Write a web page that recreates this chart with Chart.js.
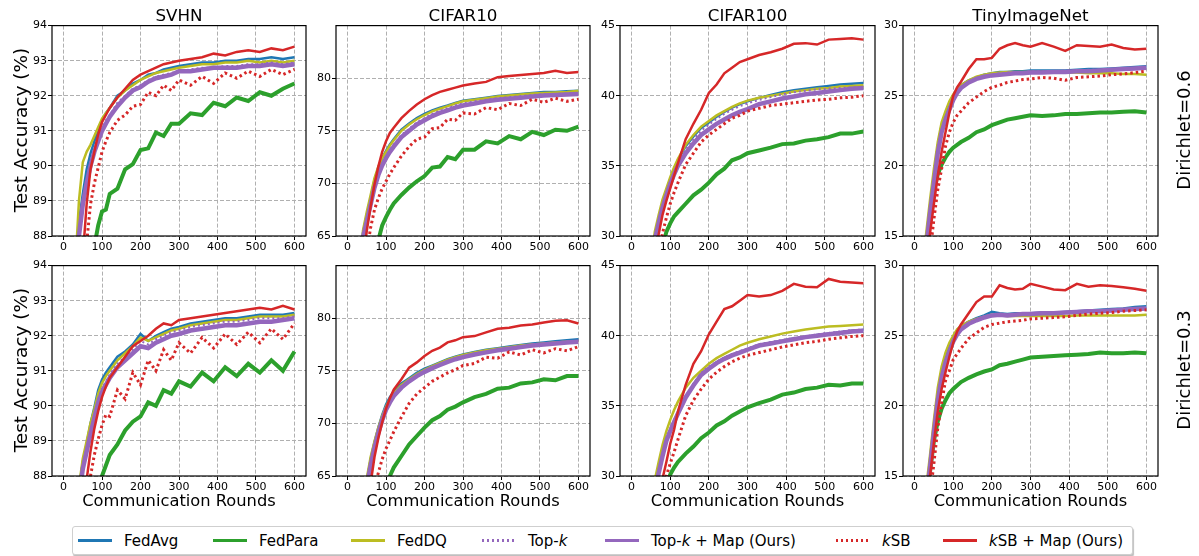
<!DOCTYPE html>
<html>
<head>
<meta charset="utf-8">
<script src="https://cdn.jsdelivr.net/npm/chart.js@4.4.0/dist/chart.umd.min.js"></script>
<style>
  body { margin: 0; background: #fff; width: 1199px; height: 556px; position: relative; overflow: hidden;
         font-family: "DejaVu Sans", sans-serif; color: #000; }
  canvas { position: absolute; }
  .lbl { position: absolute; white-space: nowrap; transform: translate(-50%, -50%); line-height: 1; }
  .rot { transform: translate(-50%, -50%) rotate(-90deg); }
  #legend { position: absolute; left: 72px; top: 526px; width: 1059px; height: 27px; border: 1px solid #cfcfcf;
            border-radius: 3px; background: #fff; box-shadow: 1px 2px 1px rgba(0,0,0,0.25); }
  .item { position: absolute; top: 0; height: 27px; }
  .swatch { position: absolute; top: 12px; width: 34px; height: 3px; }
  .text { position: absolute; top: 5px; font-size: 15px; white-space: nowrap; }
</style>
</head>
<body>
<div id="legend"></div>
<script>
const ROUNDS = [0, 25, 40, 50, 60, 70, 80, 90, 100, 110, 120, 140, 160, 180, 200, 220, 240, 260, 280, 300,
                330, 360, 390, 420, 450, 480, 510, 540, 570, 600];
const X_TICKS = [0, 100, 200, 300, 400, 500, 600];

const TITLES = ['SVHN', 'CIFAR10', 'CIFAR100', 'TinyImageNet'];
const ROW_LABELS = ['Dirichlet=0.6', 'Dirichlet=0.3'];
const Y_MIN = [88, 65, 30, 15];
const Y_MAX = [94, 85, 45, 30];
const Y_TICKS = [[88, 89, 90, 91, 92, 93, 94], [65, 70, 75, 80], [30, 35, 40, 45], [15, 20, 25, 30]];
const SERIES_NAMES = ['FedAvg', 'FedPara', 'FedDQ', 'Top-k', 'Top-k + Map (Ours)', 'kSB', 'kSB + Map (Ours)'];

// ---- SVHN, Dirichlet=0.6
const svhn06FedAvg = [80, 85.5, 88.4, 89.2, 89.9, 90.35, 90.7, 91.0, 91.3, 91.5,
  91.65, 92.0, 92.15, 92.35, 92.45, 92.6, 92.65, 92.75, 92.8, 92.85,
  92.9, 92.95, 92.95, 93.0, 93.0, 93.05, 93.05, 93.1, 93.05, 93.1];
const svhn06FedPara = [75, 80, 83, 84.5, 85.8, 86.8, 87.7, 88.3, 88.7, 88.75,
  89.2, 89.35, 89.9, 90.05, 90.45, 90.5, 90.95, 90.85, 91.2, 91.2,
  91.5, 91.45, 91.8, 91.7, 91.95, 91.85, 92.1, 92.0, 92.2, 92.35];
const svhn06FedDQ = [80, 86, 89.0, 90.1, 90.4, 90.6, 90.85, 91.1, 91.35, 91.5,
  91.65, 91.95, 92.15, 92.3, 92.45, 92.55, 92.65, 92.7, 92.75, 92.8,
  92.85, 92.9, 92.9, 92.95, 92.95, 93.0, 92.95, 93.0, 92.95, 93.0];
const svhn06TopK = [79, 85, 88.0, 89.0, 89.6, 90.1, 90.5, 90.8, 91.05, 91.3,
  91.45, 91.8, 92.0, 92.2, 92.3, 92.45, 92.55, 92.6, 92.65, 92.7,
  92.75, 92.8, 92.8, 92.85, 92.85, 92.9, 92.9, 92.95, 92.9, 92.95];
const svhn06TopKMap = [79, 85, 88.0, 88.9, 89.5, 90.0, 90.4, 90.7, 91.0, 91.2,
  91.4, 91.7, 91.95, 92.15, 92.25, 92.4, 92.5, 92.55, 92.6, 92.7,
  92.7, 92.75, 92.8, 92.8, 92.8, 92.85, 92.85, 92.9, 92.85, 92.9];
const svhn06KSB = [75, 81, 84.5, 86.2, 87.8, 88.9, 89.5, 89.95, 90.4, 90.7,
  90.95, 91.3, 91.45, 91.7, 91.75, 92.1, 92.0, 92.3, 92.15, 92.45,
  92.3, 92.55, 92.35, 92.65, 92.5, 92.7, 92.55, 92.75, 92.6, 92.75];
const svhn06KSBMap = [76, 82, 85.5, 87.4, 88.9, 89.9, 90.4, 90.9, 91.25, 91.45,
  91.65, 91.95, 92.2, 92.45, 92.6, 92.7, 92.8, 92.9, 92.95, 93.0,
  93.05, 93.1, 93.2, 93.15, 93.25, 93.3, 93.25, 93.35, 93.3, 93.4];

// ---- CIFAR10, Dirichlet=0.6
const cifar10_06FedAvg = [30, 55, 65.3, 67.0, 68.6, 70.3, 71.5, 72.4, 73.1, 73.7,
  74.2, 75.1, 75.7, 76.2, 76.6, 76.95, 77.2, 77.4, 77.65, 77.85,
  78.0, 78.15, 78.3, 78.4, 78.5, 78.6, 78.7, 78.7, 78.75, 78.8];
const cifar10_06FedPara = [20, 40, 52, 56.5, 60, 62.5, 64.6, 66.0, 66.8, 67.5,
  68.1, 68.9, 69.6, 70.2, 70.7, 71.5, 71.6, 72.5, 72.3, 73.2,
  73.2, 74.0, 73.8, 74.5, 74.2, 74.9, 74.6, 75.1, 75.0, 75.4];
const cifar10_06FedDQ = [30, 55, 65.5, 67.3, 68.9, 70.5, 71.6, 72.4, 73.0, 73.6,
  74.1, 75.0, 75.6, 76.1, 76.5, 76.85, 77.1, 77.35, 77.6, 77.8,
  77.95, 78.1, 78.25, 78.35, 78.45, 78.55, 78.6, 78.65, 78.7, 78.8];
const cifar10_06TopK = [30, 54.5, 65.0, 66.6, 68.2, 69.8, 71.0, 71.9, 72.6, 73.2,
  73.7, 74.6, 75.2, 75.8, 76.2, 76.6, 76.9, 77.15, 77.4, 77.6,
  77.8, 77.95, 78.1, 78.2, 78.3, 78.4, 78.5, 78.5, 78.55, 78.6];
const cifar10_06TopKMap = [30, 54, 64.8, 66.4, 68.0, 69.6, 70.8, 71.7, 72.4, 73.0,
  73.5, 74.4, 75.0, 75.6, 76.0, 76.4, 76.7, 76.95, 77.2, 77.4,
  77.6, 77.8, 77.95, 78.05, 78.15, 78.25, 78.35, 78.4, 78.45, 78.5];
const cifar10_06KSB = [25, 50, 60, 63.5, 65.8, 67.5, 68.6, 69.5, 70.2, 70.9,
  71.5, 72.6, 73.5, 74.2, 74.4, 75.2, 75.3, 76.1, 76.0, 76.7,
  76.6, 77.2, 77.0, 77.6, 77.4, 78.0, 77.7, 78.1, 77.8, 78.0];
const cifar10_06KSBMap = [28, 52, 62.5, 65.5, 67.8, 69.9, 71.6, 73.0, 74.0, 74.8,
  75.3, 76.2, 76.9, 77.5, 78.0, 78.4, 78.7, 78.9, 79.1, 79.3,
  79.5, 79.65, 80.1, 80.2, 80.3, 80.4, 80.5, 80.7, 80.5, 80.6];

// ---- CIFAR100, Dirichlet=0.6
const cifar100_06FedAvg = [5, 18, 24, 27.3, 30.0, 31.2, 32.3, 33.2, 34.0, 34.8,
  35.4, 36.4, 37.1, 37.7, 38.1, 38.5, 38.85, 39.15, 39.4, 39.6,
  39.85, 40.05, 40.25, 40.4, 40.5, 40.6, 40.7, 40.8, 40.85, 40.9];
const cifar100_06FedPara = [5, 15, 21, 24, 26.2, 27.8, 29.2, 30.3, 30.9, 31.4,
  31.7, 32.3, 32.9, 33.3, 33.8, 34.4, 34.8, 35.4, 35.6, 35.9,
  36.1, 36.3, 36.55, 36.6, 36.8, 36.9, 37.05, 37.3, 37.3, 37.45];
const cifar100_06FedDQ = [5, 19, 25, 28, 30.3, 31.5, 32.6, 33.4, 34.2, 34.9,
  35.5, 36.5, 37.2, 37.8, 38.2, 38.6, 38.9, 39.2, 39.45, 39.65,
  39.85, 40.0, 40.15, 40.3, 40.4, 40.5, 40.55, 40.65, 40.7, 40.75];
const cifar100_06TopK = [5, 18, 24, 27.2, 29.9, 31.1, 32.2, 33.1, 33.9, 34.6,
  35.2, 36.2, 36.9, 37.5, 37.95, 38.35, 38.7, 39.0, 39.25, 39.45,
  39.7, 39.9, 40.1, 40.25, 40.35, 40.45, 40.5, 40.55, 40.6, 40.6];
const cifar100_06TopKMap = [5, 18, 24, 27, 29.7, 30.9, 32.0, 32.9, 33.7, 34.4,
  35.0, 35.9, 36.6, 37.2, 37.6, 38.0, 38.3, 38.6, 38.85, 39.05,
  39.4, 39.6, 39.8, 39.95, 40.1, 40.2, 40.3, 40.4, 40.5, 40.55];
const cifar100_06KSB = [3, 15, 21, 24.5, 27, 28.8, 30.2, 31.3, 32.3, 33.1,
  33.8, 35.1, 35.9, 36.7, 37.2, 37.6, 38.0, 38.4, 38.6, 38.9,
  39.1, 39.3, 39.4, 39.5, 39.6, 39.7, 39.75, 39.85, 39.9, 40.0];
const cifar100_06KSBMap = [4, 16, 22, 25.5, 28.2, 30.1, 31.5, 32.5, 33.4, 34.3,
  35.2, 36.9, 38.0, 39.0, 40.2, 40.8, 41.6, 42.0, 42.4, 42.6,
  42.9, 43.1, 43.35, 43.7, 43.75, 43.65, 44.0, 44.05, 44.1, 44.0];

// ---- TinyImageNet, Dirichlet=0.6
const tiny06FedAvg = [5, 13.5, 17.0, 19.2, 21.4, 22.9, 23.7, 24.4, 25.0, 25.4,
  25.75, 26.1, 26.3, 26.5, 26.6, 26.7, 26.7, 26.75, 26.75, 26.8,
  26.8, 26.8, 26.8, 26.85, 26.9, 26.9, 26.95, 27.0, 27.05, 27.1];
const tiny06FedPara = [5, 12, 16.2, 18.2, 19.4, 20.1, 20.6, 21.0, 21.3, 21.5,
  21.7, 22.0, 22.4, 22.6, 22.9, 23.1, 23.3, 23.4, 23.5, 23.6,
  23.55, 23.6, 23.7, 23.7, 23.75, 23.8, 23.8, 23.85, 23.9, 23.8];
const tiny06FedDQ = [5, 14, 17.6, 19.8, 21.7, 23.1, 23.9, 24.6, 25.1, 25.45,
  25.75, 26.1, 26.35, 26.5, 26.6, 26.65, 26.7, 26.7, 26.7, 26.7,
  26.7, 26.65, 26.65, 26.65, 26.6, 26.6, 26.6, 26.55, 26.55, 26.5];
const tiny06TopK = [5, 13.2, 16.8, 19.0, 21.2, 22.6, 23.5, 24.2, 24.85, 25.3,
  25.65, 26.0, 26.25, 26.4, 26.5, 26.6, 26.65, 26.7, 26.7, 26.75,
  26.75, 26.75, 26.8, 26.8, 26.85, 26.85, 26.9, 26.9, 26.95, 26.95];
const tiny06TopKMap = [5, 13, 16.6, 18.8, 20.9, 22.4, 23.3, 24.0, 24.7, 25.2,
  25.55, 25.95, 26.2, 26.35, 26.45, 26.5, 26.55, 26.6, 26.6, 26.65,
  26.65, 26.7, 26.7, 26.75, 26.75, 26.8, 26.85, 26.9, 26.95, 27.0];
const tiny06KSB = [3, 10, 13.8, 16.2, 18.3, 19.8, 21.4, 22.4, 23.1, 23.6,
  23.9, 24.5, 24.9, 25.3, 25.6, 25.75, 25.95, 26.05, 26.15, 26.2,
  26.3, 26.25, 26.1, 26.3, 26.35, 26.4, 26.5, 26.55, 26.65, 26.75];
const tiny06KSBMap = [3, 11, 15.2, 17.3, 19.3, 21.0, 22.4, 23.8, 25.0, 25.6,
  26.0, 26.9, 27.6, 27.6, 27.7, 28.35, 28.6, 28.75, 28.6, 28.5,
  28.75, 28.5, 28.2, 28.6, 28.55, 28.5, 28.65, 28.4, 28.3, 28.35];

// ---- SVHN, Dirichlet=0.3
const svhn03FedAvg = [80, 85, 87.6, 88.4, 88.9, 89.5, 89.95, 90.45, 90.75, 90.95,
  91.1, 91.4, 91.55, 91.75, 92.05, 91.85, 92.0, 92.1, 92.2, 92.25,
  92.35, 92.4, 92.45, 92.5, 92.5, 92.55, 92.6, 92.6, 92.6, 92.65];
const svhn03FedPara = [70, 78, 82, 84, 85.5, 86.5, 87.2, 87.7, 88.0, 88.3,
  88.6, 88.9, 89.3, 89.55, 89.7, 90.1, 90.0, 90.45, 90.35, 90.7,
  90.55, 90.95, 90.7, 91.1, 90.85, 91.2, 90.95, 91.3, 91.0, 91.55];
const svhn03FedDQ = [80, 85, 87.7, 88.5, 89.0, 89.5, 89.9, 90.35, 90.65, 90.85,
  91.0, 91.3, 91.5, 91.7, 91.95, 91.85, 91.95, 92.05, 92.15, 92.2,
  92.3, 92.35, 92.4, 92.45, 92.45, 92.5, 92.55, 92.55, 92.55, 92.6];
const svhn03TopK = [79, 84.5, 87.5, 88.3, 88.8, 89.3, 89.75, 90.2, 90.5, 90.7,
  90.9, 91.2, 91.4, 91.6, 91.85, 91.75, 91.9, 92.0, 92.1, 92.15,
  92.25, 92.3, 92.35, 92.4, 92.4, 92.45, 92.5, 92.5, 92.5, 92.55];
const svhn03TopKMap = [79, 84.5, 87.4, 88.2, 88.7, 89.2, 89.65, 90.1, 90.4, 90.6,
  90.8, 91.1, 91.3, 91.5, 91.7, 91.65, 91.8, 91.9, 92.0, 92.05,
  92.15, 92.2, 92.25, 92.3, 92.3, 92.35, 92.4, 92.4, 92.45, 92.5];
const svhn03KSB = [75, 81, 84.5, 86.0, 87.2, 88.0, 88.6, 89.05, 89.45, 89.75,
  89.7, 90.45, 90.2, 90.95, 90.6, 91.3, 91.0, 91.6, 91.3, 91.8,
  91.5, 91.95, 91.65, 92.05, 91.75, 92.1, 91.8, 92.2, 91.9, 92.35];
const svhn03KSBMap = [76, 82, 85.5, 86.8, 87.9, 88.7, 89.35, 89.85, 90.25, 90.55,
  90.8, 91.1, 91.4, 91.7, 91.85, 92.0, 92.2, 92.35, 92.3, 92.45,
  92.5, 92.55, 92.6, 92.65, 92.7, 92.75, 92.8, 92.75, 92.85, 92.75];

// ---- CIFAR10, Dirichlet=0.3
const cifar10_03FedAvg = [30, 52, 60.5, 64.5, 66.6, 68.2, 69.6, 70.8, 71.8, 72.5,
  73.0, 73.8, 74.3, 74.8, 75.2, 75.5, 75.8, 76.1, 76.35, 76.55,
  76.8, 77.0, 77.15, 77.3, 77.45, 77.6, 77.7, 77.8, 77.9, 78.0];
const cifar10_03FedPara = [20, 40, 50, 54.5, 57.5, 60, 62.2, 63.5, 64.2, 65.0,
  65.8, 66.9, 68.0, 68.8, 69.6, 70.3, 70.7, 71.3, 71.6, 72.0,
  72.5, 72.8, 73.3, 73.4, 73.8, 73.9, 74.2, 74.1, 74.5, 74.5];
const cifar10_03FedDQ = [30, 52, 61, 64.8, 66.8, 68.3, 69.6, 70.7, 71.6, 72.3,
  72.85, 73.65, 74.2, 74.7, 75.1, 75.45, 75.75, 76.05, 76.3, 76.5,
  76.75, 76.95, 77.1, 77.25, 77.4, 77.5, 77.6, 77.7, 77.75, 77.8];
const cifar10_03TopK = [30, 51.5, 60, 64.2, 66.3, 67.9, 69.3, 70.5, 71.5, 72.2,
  72.75, 73.55, 74.1, 74.6, 75.0, 75.35, 75.65, 75.95, 76.2, 76.4,
  76.65, 76.85, 77.05, 77.2, 77.35, 77.5, 77.6, 77.7, 77.8, 77.85];
const cifar10_03TopKMap = [30, 51, 59.5, 64.0, 66.0, 67.7, 69.1, 70.3, 71.3, 72.0,
  72.6, 73.4, 74.0, 74.5, 74.9, 75.25, 75.55, 75.85, 76.1, 76.3,
  76.55, 76.75, 76.95, 77.1, 77.25, 77.4, 77.5, 77.6, 77.7, 77.75];
const cifar10_03KSB = [25, 48, 56, 59.5, 62.3, 64.1, 65.3, 66.6, 67.6, 68.4,
  69.2, 70.6, 71.9, 72.8, 73.4, 74.0, 74.4, 74.8, 75.1, 75.5,
  75.7, 76.3, 76.2, 76.8, 76.5, 77.0, 76.7, 77.1, 76.9, 77.3];
const cifar10_03KSBMap = [28, 50, 58, 62, 64.3, 66.8, 68.6, 70.1, 71.4, 72.4,
  73.2, 74.2, 75.3, 75.8, 76.4, 76.9, 77.2, 77.7, 77.9, 78.2,
  78.3, 78.65, 79.0, 79.1, 79.3, 79.4, 79.6, 79.75, 79.8, 79.5];

// ---- CIFAR100, Dirichlet=0.3
const cifar100_03FedAvg = [5, 17, 23, 26.5, 28.8, 30.3, 31.5, 32.6, 33.3, 33.9,
  34.5, 35.6, 36.5, 37.3, 37.7, 38.1, 38.4, 38.65, 38.85, 39.05,
  39.35, 39.5, 39.65, 39.8, 39.9, 40.05, 40.15, 40.25, 40.35, 40.4];
const cifar100_03FedPara = [5, 14, 20, 23, 25.2, 26.8, 28.2, 29.4, 30.1, 30.6,
  31.0, 31.6, 32.1, 32.7, 33.1, 33.6, 33.9, 34.3, 34.6, 34.9,
  35.2, 35.45, 35.8, 35.95, 36.2, 36.3, 36.5, 36.45, 36.6, 36.6];
const cifar100_03FedDQ = [5, 18, 24, 27.5, 29.7, 31.0, 32.2, 33.2, 34.0, 34.7,
  35.3, 36.3, 37.0, 37.5, 38.0, 38.4, 38.7, 39.0, 39.3, 39.5,
  39.75, 39.95, 40.15, 40.3, 40.45, 40.55, 40.65, 40.7, 40.75, 40.8];
const cifar100_03TopK = [5, 17, 23, 26.6, 28.9, 30.4, 31.6, 32.7, 33.4, 34.0,
  34.6, 35.7, 36.6, 37.35, 37.8, 38.15, 38.45, 38.7, 38.9, 39.1,
  39.4, 39.55, 39.7, 39.85, 39.95, 40.1, 40.2, 40.3, 40.4, 40.45];
const cifar100_03TopKMap = [5, 17, 23, 26.4, 28.7, 30.2, 31.4, 32.5, 33.2, 33.85,
  34.45, 35.6, 36.45, 37.2, 37.65, 38.05, 38.35, 38.6, 38.8, 39.0,
  39.3, 39.45, 39.6, 39.75, 39.9, 40.0, 40.1, 40.2, 40.3, 40.35];
const cifar100_03KSB = [3, 14, 20, 23.5, 26, 27.8, 29.0, 30.0, 30.9, 31.7,
  32.6, 34.3, 35.4, 36.2, 36.9, 37.4, 37.8, 38.15, 38.4, 38.6,
  38.8, 39.0, 39.2, 39.35, 39.5, 39.6, 39.75, 39.85, 39.95, 40.0];
const cifar100_03KSBMap = [4, 15, 21, 24.5, 26.8, 28.4, 29.8, 31.0, 32.3, 33.3,
  34.6, 36.5, 38.0, 38.9, 40.1, 41.0, 41.9, 42.1, 42.5, 42.9,
  42.8, 42.9, 43.2, 43.7, 43.5, 43.45, 44.05, 43.85, 43.8, 43.75];

// ---- TinyImageNet, Dirichlet=0.3
const tiny03FedAvg = [4, 12.5, 16.0, 18.5, 20.8, 22.4, 23.4, 24.2, 24.9, 25.4,
  25.7, 26.0, 26.25, 26.45, 26.7, 26.6, 26.55, 26.6, 26.6, 26.6,
  26.65, 26.65, 26.7, 26.75, 26.8, 26.85, 26.9, 26.95, 27.05, 27.1];
const tiny03FedPara = [4, 11, 15.3, 17.5, 18.9, 19.8, 20.4, 20.9, 21.2, 21.45,
  21.7, 22.0, 22.25, 22.45, 22.6, 22.9, 23.0, 23.15, 23.3, 23.45,
  23.5, 23.55, 23.6, 23.65, 23.7, 23.8, 23.75, 23.75, 23.8, 23.75];
const tiny03FedDQ = [4, 13, 16.5, 19.0, 21.3, 22.8, 23.8, 24.5, 25.0, 25.45,
  25.7, 26.0, 26.2, 26.35, 26.5, 26.45, 26.4, 26.4, 26.4, 26.4,
  26.4, 26.4, 26.4, 26.45, 26.45, 26.45, 26.45, 26.45, 26.45, 26.5];
const tiny03TopK = [4, 12.3, 15.8, 18.3, 20.6, 22.2, 23.2, 24.0, 24.7, 25.2,
  25.5, 25.9, 26.15, 26.35, 26.5, 26.5, 26.5, 26.55, 26.55, 26.55,
  26.6, 26.6, 26.65, 26.7, 26.75, 26.8, 26.85, 26.9, 26.95, 27.0];
const tiny03TopKMap = [4, 12.2, 15.6, 18.1, 20.4, 22.0, 23.1, 23.9, 24.6, 25.1,
  25.45, 25.85, 26.1, 26.3, 26.45, 26.5, 26.45, 26.5, 26.55, 26.55,
  26.6, 26.6, 26.65, 26.7, 26.75, 26.75, 26.8, 26.85, 26.9, 26.95];
const tiny03KSB = [3, 10, 13.6, 15.9, 18.4, 20.2, 21.8, 22.5, 23.3, 23.7,
  24.1, 24.8, 25.2, 25.6, 25.8, 25.9, 26.0, 26.05, 26.1, 26.2,
  26.25, 26.3, 26.35, 26.45, 26.55, 26.6, 26.65, 26.75, 26.8, 26.85];
const tiny03KSBMap = [3, 11, 15.0, 17.4, 19.6, 21.2, 22.4, 23.5, 24.5, 25.3,
  25.8, 26.6, 27.4, 27.8, 27.8, 28.6, 28.4, 28.3, 28.35, 28.7,
  28.5, 28.3, 28.25, 28.7, 28.5, 28.6, 28.55, 28.45, 28.35, 28.2];

const PANEL_DATA = [
  [
    [svhn06FedAvg, svhn06FedPara, svhn06FedDQ, svhn06TopK, svhn06TopKMap, svhn06KSB, svhn06KSBMap],
    [cifar10_06FedAvg, cifar10_06FedPara, cifar10_06FedDQ, cifar10_06TopK, cifar10_06TopKMap, cifar10_06KSB, cifar10_06KSBMap],
    [cifar100_06FedAvg, cifar100_06FedPara, cifar100_06FedDQ, cifar100_06TopK, cifar100_06TopKMap, cifar100_06KSB, cifar100_06KSBMap],
    [tiny06FedAvg, tiny06FedPara, tiny06FedDQ, tiny06TopK, tiny06TopKMap, tiny06KSB, tiny06KSBMap]
  ],
  [
    [svhn03FedAvg, svhn03FedPara, svhn03FedDQ, svhn03TopK, svhn03TopKMap, svhn03KSB, svhn03KSBMap],
    [cifar10_03FedAvg, cifar10_03FedPara, cifar10_03FedDQ, cifar10_03TopK, cifar10_03TopKMap, cifar10_03KSB, cifar10_03KSBMap],
    [cifar100_03FedAvg, cifar100_03FedPara, cifar100_03FedDQ, cifar100_03TopK, cifar100_03TopKMap, cifar100_03KSB, cifar100_03KSBMap],
    [tiny03FedAvg, tiny03FedPara, tiny03FedDQ, tiny03TopK, tiny03TopKMap, tiny03KSB, tiny03KSBMap]
  ]
];

// styling
const COLORS = ['#1f77b4', '#2ca02c', '#bcbd22', '#9467bd', '#9467bd', '#d62728', '#d62728'];
const WIDTHS = [2.5, 4, 2.5, 2, 4.5, 3, 2.5];
const DASHES = [[], [], [], [2, 3], [], [2.5, 3], []];

// plot-area boxes (pixels)
const COLS = [{L: 52, R: 306}, {L: 336, R: 590}, {L: 620, R: 875}, {L: 903, R: 1158}];
const ROWS = [{T: 24, B: 236}, {T: 264, B: 476}];
const LEGEND_X = [5, 140, 278, 409, 532, 763, 870];

Chart.defaults.font.family = "'DejaVu Sans', sans-serif";
Chart.defaults.color = '#000';

const framePlugin = {
  id: 'frame',
  afterDraw(chart) {
    const a = chart.chartArea, ctx = chart.ctx;
    ctx.save();
    ctx.strokeStyle = '#000';
    ctx.lineWidth = 1.2;
    ctx.strokeRect(a.left, a.top, a.right - a.left, a.bottom - a.top);
    ctx.restore();
  }
};

function axisOpts(min, max, ticks, isX) {
  return {
    type: 'linear', min: min, max: max,
    afterBuildTicks: s => { s.ticks = ticks.map(v => ({value: v})); },
    afterFit: s => { if (isX) s.height = 22; else s.width = 40; },
    grid: {color: '#b0b0b0', lineWidth: 1, tickLength: 4, tickColor: '#000', tickWidth: 1},
    border: {display: false, dash: [4, 2]},
    ticks: {font: {size: 11}, color: '#000', padding: 1, maxRotation: 0, autoSkip: false}
  };
}

function addLabel(text, x, y, size, rotated) {
  const d = document.createElement('div');
  d.className = 'lbl' + (rotated ? ' rot' : '');
  d.style.left = x + 'px';
  d.style.top = y + 'px';
  d.style.fontSize = size + 'px';
  d.textContent = text;
  document.body.appendChild(d);
}

function makePanel(r, c) {
  const {L, R} = COLS[c], {T, B} = ROWS[r];
  const w = R - L + 46, h = B - T + 28;
  const cv = document.createElement('canvas');
  cv.width = w; cv.height = h;
  cv.style.left = (L - 40) + 'px'; cv.style.top = (T - 6) + 'px';
  cv.style.width = w + 'px'; cv.style.height = h + 'px';
  document.body.appendChild(cv);

  const series = PANEL_DATA[r][c];
  new Chart(cv, {
    type: 'line',
    data: {
      datasets: series.map((vals, i) => ({
        label: SERIES_NAMES[i],
        data: ROUNDS.map((x, j) => ({x: x, y: vals[j]})),
        borderColor: COLORS[i],
        borderWidth: WIDTHS[i],
        borderDash: DASHES[i],
        pointRadius: 0,
        tension: 0,
        fill: false,
        clip: 0,
        order: series.length - 1 - i
      }))
    },
    options: {
      responsive: false, animation: false, devicePixelRatio: 1,
      layout: {padding: {left: 0, top: 6, right: 6, bottom: 0}},
      plugins: {legend: {display: false}, tooltip: {enabled: false}},
      scales: {
        x: axisOpts(-30, 630, X_TICKS, true),
        y: axisOpts(Y_MIN[c], Y_MAX[c], Y_TICKS[c], false)
      }
    },
    plugins: [framePlugin]
  });
}

for (let r = 0; r < 2; r++) {
  for (let c = 0; c < 4; c++) makePanel(r, c);
}

// titles, axis labels, row labels
TITLES.forEach((t, c) => addLabel(t, (COLS[c].L + COLS[c].R) / 2, 15, 16.7, false));
COLS.forEach(col => addLabel('Communication Rounds', (col.L + col.R) / 2, 501, 16.3, false));
ROWS.forEach((row, r) => {
  addLabel('Test Accuracy (%)', 21, (row.T + row.B) / 2, 18.5, true);
  addLabel(ROW_LABELS[r], 1184, (row.T + row.B) / 2, 18, true);
});

// legend
const legend = document.getElementById('legend');
SERIES_NAMES.forEach((name, i) => {
  const item = document.createElement('div');
  item.className = 'item';
  item.style.left = LEGEND_X[i] + 'px';
  const sw = document.createElement('div');
  sw.className = 'swatch';
  if (DASHES[i].length) {
    sw.style.background = `repeating-linear-gradient(90deg, ${COLORS[i]} 0 2px, transparent 2px 5px)`;
    sw.style.height = '2.5px';
  } else {
    sw.style.background = COLORS[i];
  }
  const tx = document.createElement('div');
  tx.className = 'text';
  tx.style.left = '46px';
  tx.innerHTML = name.replace(/-k\b/, '-<i>k</i>').replace(/^kSB/, '<i>k</i>SB');
  item.appendChild(sw);
  item.appendChild(tx);
  legend.appendChild(item);
});
</script>
</body>
</html>
